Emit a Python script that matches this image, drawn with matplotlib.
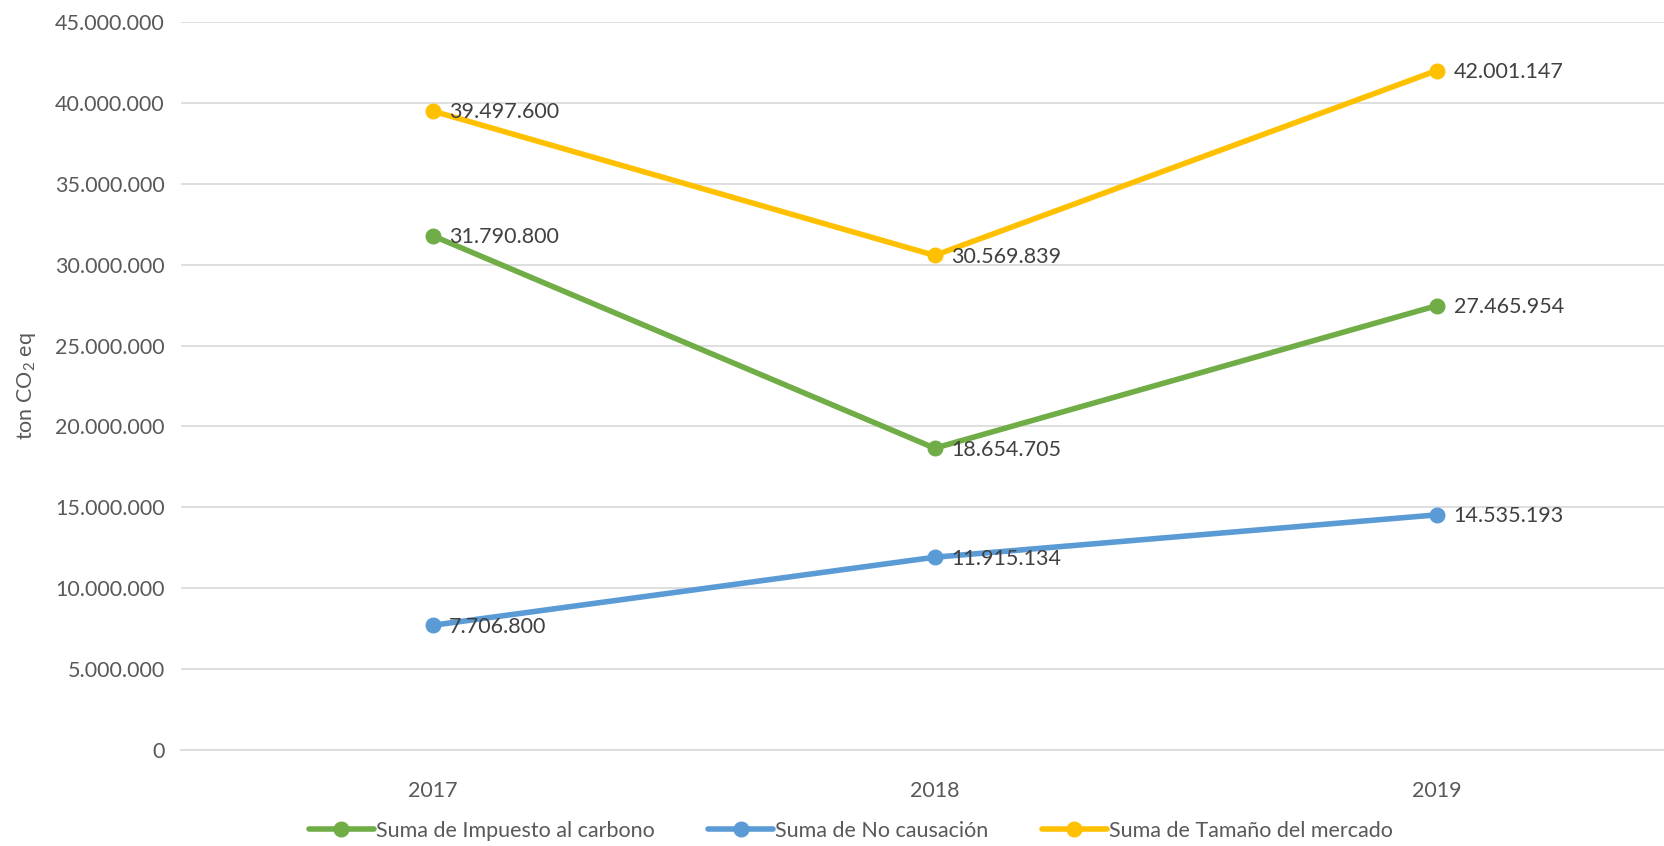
import matplotlib
matplotlib.use("Agg")
import matplotlib.pyplot as plt
from matplotlib.ticker import FuncFormatter, MultipleLocator

plt.rcParams['font.family'] = ['Lato', 'DejaVu Sans']
plt.rcParams['mathtext.fontset'] = 'custom'
plt.rcParams['mathtext.rm'] = 'Lato'
plt.rcParams['mathtext.it'] = 'Lato'

years = ['2017', '2018', '2019']
impuesto = [31790800, 18654705, 27465954]
no_causacion = [7706800, 11915134, 14535193]
tamano = [39497600, 30569839, 42001147]

series = [
    ('Suma de Impuesto al carbono', impuesto, '#70AD47'),
    ('Suma de No causación', no_causacion, '#5B9BD5'),
    ('Suma de Tamaño del mercado', tamano, '#FFC000'),
]

def miles(v):
    return f"{int(round(v)):,}".replace(",", ".")

fig = plt.figure(figsize=(16.65, 8.46), dpi=100)
ax = fig.add_axes([0.109, 0.1135, 1.0138 - 0.109, 0.974 - 0.1135])

x = list(range(len(years)))
for nombre, valores, color in series:
    ax.plot(x, valores, color=color, lw=4, marker='o', ms=10.5,
            label=nombre, solid_capstyle='round', zorder=3)
    for xi, v in zip(x, valores):
        ax.annotate(miles(v), (xi, v), xytext=(12, -1), textcoords='offset points',
                    ha='left', va='center', fontsize=15.5, color='#404040', zorder=4)

ax.set_xlim(-0.5, 2.5)
ax.set_ylim(0, 45000000)
ax.yaxis.set_major_locator(MultipleLocator(5000000))
ax.yaxis.set_major_formatter(FuncFormatter(lambda v, p: miles(v)))
ax.set_xticks(x)
ax.set_xticklabels(years)

ax.grid(axis='y', color='#D9D9D9', lw=1.2)
ax.set_axisbelow(True)
for s in ['top', 'right', 'left']:
    ax.spines[s].set_visible(False)
ax.spines['bottom'].set_color('#D9D9D9')
ax.spines['bottom'].set_linewidth(1.2)
ax.tick_params(axis='both', length=0, labelsize=15.5, labelcolor='#595959')
ax.tick_params(axis='x', pad=22)
ax.tick_params(axis='y', pad=12)

ax.set_ylabel('ton CO$_2$ eq', fontsize=15.5, color='#595959', labelpad=12)

fig.legend(loc='center', bbox_to_anchor=(0.511, 1 - 831 / 846), ncol=3,
           frameon=False, fontsize=15.5, labelcolor='#595959', handlelength=3.0,
           handletextpad=0.1, columnspacing=2.5, borderaxespad=0)

fig.savefig('out.png', dpi=100)
